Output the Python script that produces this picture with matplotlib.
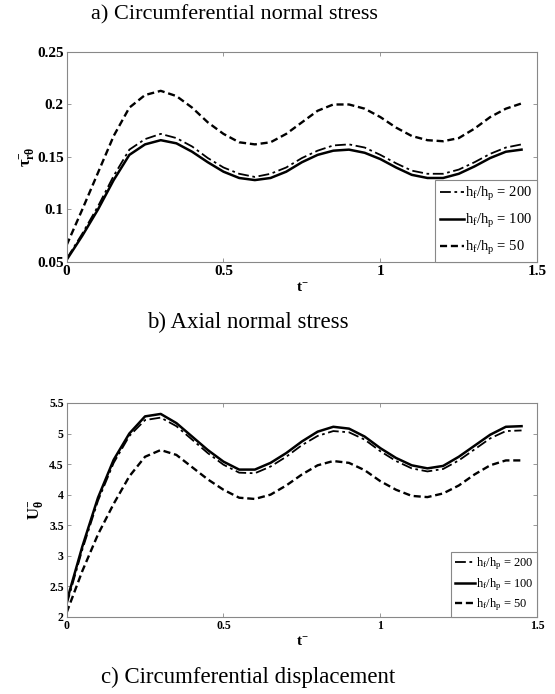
import numpy as np
import matplotlib.pyplot as plt

plt.rcParams['font.family'] = ['Liberation Serif', 'DejaVu Serif']
plt.rcParams['mathtext.fontset'] = 'custom'
plt.rcParams['mathtext.rm'] = 'Liberation Serif'
plt.rcParams['mathtext.it'] = 'Liberation Serif'
plt.rcParams['mathtext.bf'] = 'Liberation Serif:bold'

# time samples
t = [0, 0.05, 0.1, 0.15, 0.2, 0.25, 0.3, 0.35, 0.4, 0.45, 0.5, 0.55, 0.6, 0.65, 0.7,
     0.75, 0.8, 0.85, 0.9, 0.95, 1.0, 1.05, 1.1, 1.15, 1.2, 1.25, 1.3, 1.35, 1.4, 1.45]

# circumferential normal stress
stress_200 = [0.053, 0.077, 0.103, 0.132, 0.157, 0.167, 0.172, 0.168, 0.160, 0.149, 0.140, 0.134,
              0.131, 0.134, 0.140, 0.149, 0.156, 0.161, 0.162, 0.159, 0.152, 0.144, 0.137, 0.134,
              0.134, 0.138, 0.145, 0.153, 0.159, 0.162]
stress_100 = [0.052, 0.075, 0.100, 0.128, 0.152, 0.162, 0.166, 0.163, 0.155, 0.145, 0.136, 0.130,
              0.128, 0.130, 0.136, 0.145, 0.152, 0.156, 0.157, 0.154, 0.148, 0.140, 0.133, 0.130,
              0.130, 0.134, 0.141, 0.149, 0.155, 0.157]
stress_50 = [0.066, 0.100, 0.135, 0.170, 0.197, 0.209, 0.213, 0.208, 0.197, 0.183, 0.172, 0.164,
             0.162, 0.164, 0.172, 0.183, 0.194, 0.200, 0.200, 0.196, 0.188, 0.178, 0.170, 0.166,
             0.165, 0.168, 0.177, 0.188, 0.196, 0.201]

# circumferential displacement
disp_200 = [2.20, 3.10, 3.90, 4.52, 4.96, 5.22, 5.26, 5.12, 4.90, 4.68, 4.49, 4.36, 4.35, 4.46, 4.62,
            4.81, 4.96, 5.04, 5.02, 4.90, 4.71, 4.55, 4.43, 4.38, 4.42, 4.56, 4.74, 4.92, 5.04, 5.05]
disp_100 = [2.25, 3.15, 3.95, 4.57, 5.00, 5.28, 5.32, 5.17, 4.95, 4.73, 4.54, 4.41, 4.41, 4.52, 4.68,
            4.87, 5.03, 5.11, 5.08, 4.95, 4.76, 4.60, 4.48, 4.43, 4.47, 4.62, 4.80, 4.98, 5.11, 5.12]
disp_50 = [2.07, 2.75, 3.35, 3.85, 4.30, 4.62, 4.73, 4.65, 4.45, 4.25, 4.08, 3.95, 3.93, 4.00, 4.15,
           4.33, 4.48, 4.55, 4.52, 4.40, 4.22, 4.08, 3.98, 3.96, 4.02, 4.15, 4.33, 4.48, 4.56, 4.56]

labels = [r'$\mathregular{h_f/h_p}$ = 200', r'$\mathregular{h_f/h_p}$ = 100',
          r'$\mathregular{h_f/h_p}$ = 50']

fig = plt.figure(figsize=(5.55, 6.94), dpi=100)
ax1 = fig.add_axes([0.120, 0.6225, 0.848, 0.3026])
ax2 = fig.add_axes([0.120, 0.111, 0.848, 0.3084])


def style_axes(ax, size):
    for s in ax.spines.values():
        s.set_color('#888888')
        s.set_linewidth(0.8)
    ax.tick_params(direction='in', length=3, width=0.6, color='#888888',
                   top=True, right=True, labelsize=size, pad=2)
    for lab in ax.get_xticklabels() + ax.get_yticklabels():
        lab.set_fontweight('bold')


def draw(ax, ys, lw_thin, dash):
    ax.plot(t, ys[0], color='black', linestyle=(0, (6, 2, 1.5, 2)), linewidth=lw_thin, label=labels[0])
    ax.plot(t, ys[1], color='black', linestyle='-', linewidth=1.8, label=labels[1])
    ax.plot(t, ys[2], color='black', linestyle=(0, dash), linewidth=1.7, label=labels[2])


# top panel
draw(ax1, [stress_200, stress_100, stress_50], 1.3, (3, 1.6))
ax1.set_xlim(0, 1.5)
ax1.set_ylim(0.05, 0.25)
ax1.set_xticks([0, 0.5, 1, 1.5])
ax1.set_xticklabels(['0', '0.5', '1', '1.5'])
ax1.set_yticks([0.05, 0.1, 0.15, 0.2, 0.25])
ax1.set_yticklabels(['0.05', '0.1', '0.15', '0.2', '0.25'])
style_axes(ax1, 11)
ax1.set_xlabel(r'$\mathbf{t^{-}}$', fontsize=11, labelpad=3)
ax1.set_ylabel(r'$\mathbf{\tau^{-}_{r\theta}}$', fontsize=12, labelpad=0)
leg1 = ax1.legend(loc='lower right', fontsize=10.5, handlelength=1.6, handletextpad=0.1,
                  borderaxespad=0, borderpad=0.35, labelspacing=0.6, fancybox=False,
                  framealpha=1, edgecolor='#888888')
leg1.get_frame().set_linewidth(0.8)

# bottom panel
draw(ax2, [disp_200, disp_100, disp_50], 1.3, (3, 1.6))
ax2.set_xlim(0, 1.5)
ax2.set_ylim(2, 5.5)
ax2.set_xticks([0, 0.5, 1, 1.5])
ax2.set_xticklabels(['0', '0.5', '1', '1.5'])
ax2.set_yticks([2, 2.5, 3, 3.5, 4, 4.5, 5, 5.5])
ax2.set_yticklabels(['2', '2.5', '3', '3.5', '4', '4.5', '5', '5.5'])
style_axes(ax2, 8.5)
ax2.set_xlabel(r'$\mathbf{t^{-}}$', fontsize=11, labelpad=3)
ax2.set_ylabel(r'$\mathbf{U^{-}_{\theta}}$', fontsize=12, labelpad=2)
leg2 = ax2.legend(loc='lower right', fontsize=9, handlelength=1.6, handletextpad=0.1,
                  borderaxespad=0, borderpad=0.3, labelspacing=0.3, fancybox=False,
                  framealpha=1, edgecolor='#888888')
leg2.get_frame().set_linewidth(0.8)

# captions
fig.text(234 / 555, 1 - 15 / 694, 'a) Circumferential normal stress', fontsize=16,
         ha='center', va='center')
fig.text(248 / 555, 1 - 322 / 694, 'b) Axial normal stress', fontsize=16.5,
         ha='center', va='center')
fig.text(248 / 555, 1 - 677 / 694, 'c) Circumferential displacement', fontsize=16.5,
         ha='center', va='center')

fig.savefig('out.png', dpi=100)
